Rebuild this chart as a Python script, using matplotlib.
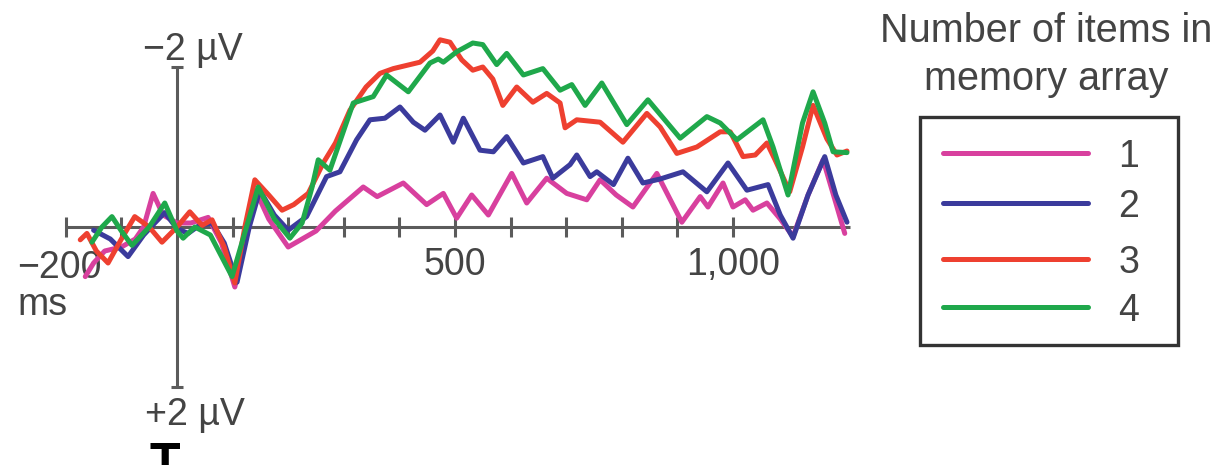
import matplotlib
matplotlib.use('Agg')
import matplotlib.pyplot as plt
from matplotlib.patches import Rectangle

plt.rcParams['font.family'] = ['Liberation Sans', 'DejaVu Sans']

# ERP amplitudes in microvolts (negative plotted upward), times in ms
t_one = [-165, -150, -130, -100, -75, -60, -43, -25, 0, 25, 56, 80, 104, 125, 142, 165, 200,
         250, 285, 335, 360, 407, 449, 479, 503, 530, 560, 602, 629, 665, 701, 737, 761, 790,
         820, 863, 908, 941, 955, 982, 1000, 1022, 1036, 1061, 1085, 1108, 1135, 1162, 1185, 1201]
v_one = [0.62, 0.45, 0.3, 0.25, 0.15, 0.0, -0.42, -0.15, -0.05, -0.05, -0.12, 0.2, 0.75, 0.1,
         -0.45, -0.1, 0.25, 0.05, -0.2, -0.5, -0.38, -0.55, -0.28, -0.42, -0.11, -0.4, -0.15,
         -0.67, -0.3, -0.61, -0.42, -0.34, -0.59, -0.4, -0.25, -0.67, -0.06, -0.38, -0.25, -0.55,
         -0.25, -0.34, -0.21, -0.3, -0.1, 0.12, -0.4, -0.84, -0.3, 0.08]

t_two = [-150, -120, -88, -60, -40, -22, 0, 20, 40, 63, 85, 108, 130, 149, 175, 200, 233, 269,
         293, 323, 347, 374, 401, 425, 446, 473, 497, 515, 545, 569, 593, 623, 658, 676, 707,
         719, 743, 755, 785, 811, 838, 869, 910, 953, 991, 1025, 1063, 1085, 1108, 1135, 1165,
         1185, 1205]
v_two = [0.04, 0.15, 0.37, 0.1, -0.05, -0.18, 0.02, 0.08, -0.02, -0.05, 0.2, 0.69, 0.0, -0.46,
         -0.15, 0.04, -0.13, -0.63, -0.69, -1.09, -1.34, -1.36, -1.5, -1.31, -1.21, -1.4, -1.06,
         -1.36, -0.96, -0.94, -1.13, -0.8, -0.88, -0.61, -0.78, -0.9, -0.63, -0.69, -0.53, -0.86,
         -0.55, -0.6, -0.69, -0.44, -0.8, -0.46, -0.53, -0.15, 0.14, -0.4, -0.88, -0.4, -0.06]

t_three = [-174, -162, -145, -124, -100, -76, -50, -27, 0, 23, 45, 63, 85, 104, 122, 140, 165,
           189, 210, 236, 263, 285, 311, 340, 365, 389, 437, 460, 473, 491, 512, 532, 550, 568,
           586, 611, 640, 665, 689, 698, 719, 761, 802, 845, 869, 899, 935, 977, 995, 1018, 1040,
           1061, 1075, 1102, 1125, 1144, 1169, 1187, 1205]
v_three = [0.16, 0.08, 0.3, 0.45, 0.15, -0.13, 0.0, 0.19, 0.0, -0.19, -0.02, -0.09, 0.25, 0.7,
           0.0, -0.59, -0.4, -0.21, -0.28, -0.42, -0.8, -1.05, -1.46, -1.75, -1.92, -1.98, -2.06,
           -2.2, -2.34, -2.31, -2.09, -1.96, -2.0, -1.85, -1.52, -1.75, -1.56, -1.67, -1.55, -1.24,
           -1.34, -1.31, -1.06, -1.42, -1.25, -0.92, -1.0, -1.19, -1.19, -0.88, -0.9, -1.05, -0.85,
           -0.44, -1.0, -1.52, -1.1, -0.9, -0.95]

t_four = [-153, -135, -117, -100, -81, -50, -22, 0, 11, 32, 60, 99, 125, 146, 175, 203, 225,
          243, 254, 275, 317, 353, 377, 416, 455, 470, 479, 503, 532, 550, 575, 593, 623, 658,
          689, 710, 734, 764, 809, 847, 905, 953, 977, 1007, 1054, 1072, 1099, 1125, 1144, 1165,
          1180, 1205]
v_four = [0.19, 0.0, -0.13, 0.05, 0.23, 0.0, -0.3, 0.05, 0.14, 0.0, 0.1, 0.62, 0.0, -0.5, -0.1,
          0.14, -0.05, -0.5, -0.84, -0.71, -1.55, -1.63, -1.9, -1.69, -2.05, -2.1, -2.06, -2.19,
          -2.3, -2.28, -2.03, -2.17, -1.9, -1.98, -1.71, -1.78, -1.52, -1.8, -1.28, -1.59, -1.11,
          -1.38, -1.3, -1.09, -1.34, -1.0, -0.4, -1.3, -1.69, -1.3, -0.94, -0.93]

series_labels = ['1', '2', '3', '4']
series_colors = ['#d8409e', '#3b3b9c', '#ee4030', '#1fa84b']
x_ticks = [-200, -100, 100, 200, 300, 400, 500, 600, 700, 800, 900, 1000]
x_tick_labels = {500: '500', 1000: '1,000'}

W, H = 1218, 465
text_color = '#444444'
axis_color = '#5b5b5b'

figure = plt.figure(figsize=(W / 100, H / 100), dpi=100)

# layout layer in pixel coordinates (labels and legend)
lay = figure.add_axes([0, 0, 1, 1])
lay.set_xlim(0, W)
lay.set_ylim(H, 0)
lay.axis('off')

# data layer: 0 ms at x=177 px, 0 uV at y=227 px
axes = figure.add_axes([0, 0, 1, 1])
axes.set_facecolor('none')
px_ms = 0.556
px_uv = 80.0
axes.set_xlim(-177 / px_ms, (W - 177) / px_ms)
axes.set_ylim((H - 227) / px_uv, -227 / px_uv)
axes.axis('off')

# axes lines
axes.plot([-200, 1210], [0, 0], color=axis_color, lw=2.2, zorder=1, solid_capstyle='butt')
axes.plot([0, 0], [-2, 2], color=axis_color, lw=2.2, zorder=1, solid_capstyle='butt')
axes.vlines(x_ticks, -0.12, 0.12, color=axis_color, lw=2.2, zorder=1)
axes.hlines([-2, 2], -11, 11, color=axis_color, lw=2.2, zorder=1)
for t, lab in x_tick_labels.items():
    axes.text(t, 0.6, lab, ha='center', va='baseline', fontsize=27, color=text_color)

# waveforms
waves = [(t_one, v_one), (t_two, v_two), (t_three, v_three), (t_four, v_four)]
for (ts, vs), lab, col in zip(waves, series_labels, series_colors):
    axes.plot(ts, vs, color=col, lw=3.6, label=lab, solid_joinstyle='round',
              solid_capstyle='round', zorder=3)

# axis annotations
lay.text(143, 60, '\u22122 \u00b5V', ha='left', va='baseline', fontsize=27, color=text_color)
lay.text(145, 425, '+2 \u00b5V', ha='left', va='baseline', fontsize=27, color=text_color)
lay.text(17, 278, '\u2212200', ha='left', va='baseline', fontsize=27, color=text_color)
lay.text(17, 315, 'ms', ha='left', va='baseline', fontsize=27, color=text_color)
lay.text(150, 442, 'T', ha='left', va='top', fontsize=36, fontweight='bold', color='black')

# legend
lay.text(1046, 42, 'Number of items in', ha='center', va='baseline', fontsize=28.5, color=text_color)
lay.text(1046, 90, 'memory array', ha='center', va='baseline', fontsize=28.5, color=text_color)
lay.add_patch(Rectangle((920, 117), 258, 228, fill=False, edgecolor='#333333', lw=2.4))
rows = [153, 203, 259, 307]
for y, lab, col in zip(rows, series_labels, series_colors):
    lay.plot([943, 1088], [y, y], color=col, lw=3.6, solid_capstyle='round')
    lay.text(1129, y, lab, ha='center', va='center_baseline', fontsize=27, color=text_color)

figure.savefig('out.png', dpi=100)
